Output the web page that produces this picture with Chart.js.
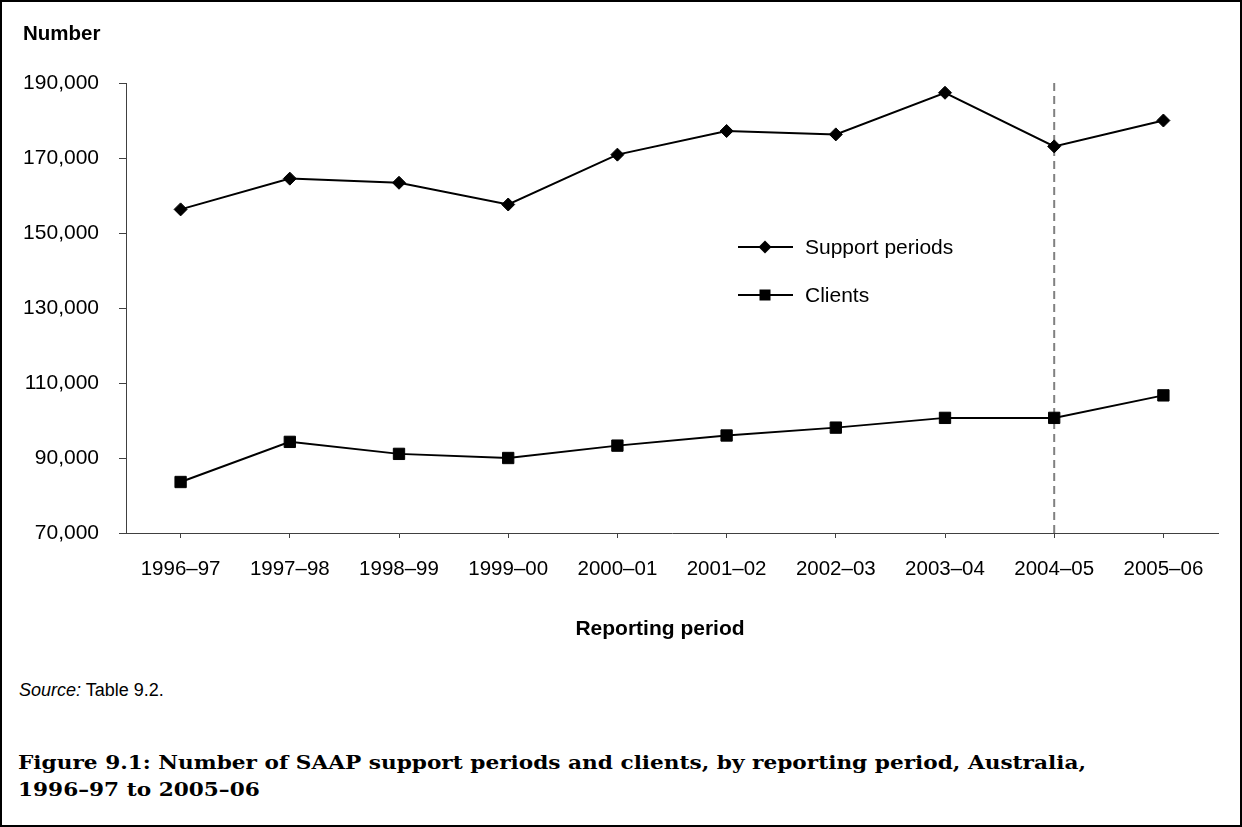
<!DOCTYPE html>
<html>
<head>
<meta charset="utf-8">
<script src="https://cdn.jsdelivr.net/npm/chart.js@4/dist/chart.umd.min.js"></script>
<style>
  html, body { margin: 0; padding: 0; background: #fff; }
  #page { position: relative; width: 1242px; height: 827px; overflow: hidden; font-family: "Liberation Sans", Arial, sans-serif; color: #000; }
  #frame { position: absolute; left: 0; top: 0; right: 0; bottom: 0; border: 2px solid #000; pointer-events: none; }
  #chart { position: absolute; left: 0; top: 0; }
  .ytitle { position: absolute; left: 23px; top: 21px; font-weight: bold; font-size: 20.5px; }
  .xtitle { position: absolute; left: 540px; width: 240px; top: 616px; text-align: center; font-weight: bold; font-size: 21px; }
  .source { position: absolute; left: 19px; top: 680px; font-size: 18px; }
  .caption { position: absolute; left: 18px; top: 749px; font-family: "DejaVu Serif", "Liberation Serif", serif; font-weight: bold; font-size: 19px; line-height: 27px; white-space: nowrap; transform-origin: 0 0; }
</style>
</head>
<body>
<div id="page">
  <canvas id="chart" width="1242" height="660"></canvas>
  <div class="ytitle">Number</div>
  <div class="xtitle">Reporting period</div>
  <div class="source"><i>Source:</i> Table 9.2.</div>
  <div class="caption" id="caption"><span id="cap1">Figure 9.1: Number of SAAP support periods and clients, by reporting period, Australia,</span><br>1996–97 to 2005–06</div>
  <div id="frame"></div>
</div>
<script>
const periods = ["1996–97", "1997–98", "1998–99", "1999–00", "2000–01", "2001–02", "2002–03", "2003–04", "2004–05", "2005–06"]
const supportPeriods = [156300, 164500, 163400, 157600, 170900, 177200, 176300, 187400, 173100, 180000]
const clients = [83600, 94300, 91100, 90000, 93300, 96000, 98100, 100700, 100700, 106700]
const breakPeriod = "2004–05"

const font = "Liberation Sans, Arial, sans-serif"

// stretch the caption's first line to the printed width
const cap1 = document.getElementById("cap1")
document.getElementById("caption").style.transform = "scaleX(" + (1068 / cap1.getBoundingClientRect().width) + ")"

// dashed line marking the series break
const breakLine = {
  id: "breakLine",
  beforeDatasetsDraw(chart) {
    const i = periods.indexOf(breakPeriod)
    if (i < 0) return
    const x = chart.scales.x.getPixelForValue(i)
    const { top, bottom } = chart.chartArea
    const ctx = chart.ctx
    ctx.save()
    ctx.strokeStyle = "#808080"
    ctx.lineWidth = 2
    ctx.setLineDash([8, 5])
    ctx.beginPath()
    ctx.moveTo(x, top)
    ctx.lineTo(x, bottom)
    ctx.stroke()
    ctx.restore()
  }
}

function marker(ctx, style, x, y) {
  ctx.beginPath()
  if (style === "rectRot") {
    ctx.moveTo(x - 6.5, y)
    ctx.lineTo(x, y - 6.5)
    ctx.lineTo(x + 6.5, y)
    ctx.lineTo(x, y + 6.5)
  } else {
    ctx.rect(x - 5.5, y - 5.5, 11, 11)
  }
  ctx.closePath()
  ctx.fill()
}

// legend sitting inside the plot
const innerLegend = {
  id: "innerLegend",
  afterDraw(chart) {
    const ctx = chart.ctx
    const x0 = 738, rows = [247, 295]
    ctx.save()
    ctx.font = "21px " + font
    ctx.textBaseline = "middle"
    chart.data.datasets.forEach((ds, k) => {
      const y = rows[k]
      ctx.strokeStyle = "#000"
      ctx.fillStyle = "#000"
      ctx.lineWidth = 2
      ctx.beginPath()
      ctx.moveTo(x0, y)
      ctx.lineTo(x0 + 55, y)
      ctx.stroke()
      marker(ctx, ds.pointStyle, x0 + 27, y)
      ctx.fillText(ds.label, x0 + 67, y + 1)
    })
    ctx.restore()
  }
}

new Chart(document.getElementById("chart"), {
  type: "line",
  data: {
    labels: periods,
    datasets: [
      {
        label: "Support periods",
        data: supportPeriods,
        borderColor: "#000",
        backgroundColor: "#000",
        borderWidth: 2,
        pointStyle: "rectRot",
        pointRadius: 6.5,
        pointBorderWidth: 1,
        tension: 0
      },
      {
        label: "Clients",
        data: clients,
        borderColor: "#000",
        backgroundColor: "#000",
        borderWidth: 2,
        pointStyle: "rect",
        pointRadius: 8,
        pointBorderWidth: 1,
        tension: 0
      }
    ]
  },
  options: {
    responsive: false,
    animation: false,
    layout: { padding: { top: 83, right: 24, left: 0, bottom: 0 } },
    plugins: {
      legend: { display: false },
      tooltip: { enabled: false }
    },
    scales: {
      x: {
        offset: true,
        afterFit(scale) { scale.height = 127 },
        grid: { offset: false, drawOnChartArea: false, tickLength: 5, color: "#404040", tickWidth: 1 },
        border: { color: "#404040", width: 1 },
        ticks: { color: "#000", font: { family: font, size: 20.5 }, padding: 19, maxRotation: 0, autoSkip: false }
      },
      y: {
        min: 70000,
        max: 190000,
        afterFit(scale) { scale.width = 126 },
        grid: { drawOnChartArea: false, tickLength: 7, color: "#404040" },
        border: { color: "#404040", width: 1 },
        ticks: {
          stepSize: 20000,
          color: "#000",
          padding: 20,
          font: { family: font, size: 21 },
          callback: v => v.toLocaleString("en-US")
        }
      }
    }
  },
  plugins: [breakLine, innerLegend]
})
</script>
</body>
</html>
